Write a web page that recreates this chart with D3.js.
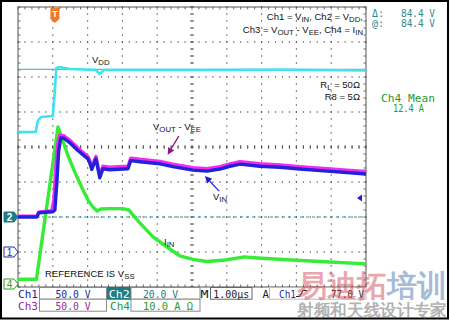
<!DOCTYPE html>
<html><head><meta charset="utf-8">
<script src="https://cdn.jsdelivr.net/npm/d3@7"></script>
<style>body{margin:0;background:#fff}svg{display:block}text{font-family:"Liberation Sans",Arial,sans-serif}</style>
</head><body><svg id="c" width="450" height="321"></svg>
<script>
// ---- data: time in µs (trigger = 0), values in volts / amps ----
const timeDomain = [-1.06, 8.94];
const ch2VDD = [[-1.06,48.6],[-0.55,48.6],[-0.49,55.0],[-0.40,57.1],[-0.06,57.7],[-0.01,69.7],[0.04,85.1],[0.14,85.7],[0.43,84.6],[1.18,84.0],[1.29,81.7],[1.41,84.0],[4.17,84.0],[6.5,84.1],[8.94,83.7]];
const ch1VIN = [[-1.06,50],[-0.52,50],[-0.46,56],[-0.06,57.5],[0,60],[0.06,102],[0.11,145],[0.17,163],[0.26,162.5],[0.43,156],[0.66,145],[0.95,133],[1.01,126],[1.06,118],[1.18,133],[1.29,106],[1.38,119],[1.58,117.5],[2.10,119],[2.18,130.5],[2.44,129],[3.02,126],[3.39,122],[3.97,117],[4.37,115.5],[4.74,118.5],[5.03,122.5],[5.32,125.5],[5.89,122.5],[6.47,121],[7.04,118.5],[7.82,115.5],[8.39,113.5],[8.94,111.5]];
const ch3VOUT = [[-1.06,51],[-0.52,51],[-0.46,57],[-0.09,59],[-0.03,74],[0.03,124],[0.09,157],[0.14,167],[0.26,166],[0.43,159.5],[0.66,148.5],[0.95,136.5],[1.01,129.5],[1.06,121.5],[1.18,136.5],[1.29,109.5],[1.38,122.5],[1.58,121],[2.10,122.5],[2.18,134],[2.44,132.5],[3.02,129.5],[3.39,125.5],[3.97,120.5],[4.37,119],[4.74,122],[5.03,126],[5.32,129],[5.89,126],[6.47,124.5],[7.04,122],[7.82,119],[8.39,117],[8.94,115]];
const ch4IIN = [[-1.06,2.2],[-0.53,2.2],[0.09,45.7],[0.23,41.7],[0.37,37.7],[0.57,32.9],[0.78,28.3],[0.95,24.9],[1.09,22.9],[1.21,21.7],[1.32,22.3],[1.58,22.4],[1.95,22.4],[2.13,22.0],[2.24,20.6],[2.44,18.3],[2.82,14.3],[3.21,11.5],[3.59,8.9],[3.97,7.9],[4.36,7.3],[4.89,7.7],[5.46,8.6],[5.83,8.3],[6.80,7.7],[7.76,7.2],[8.94,6.6]];
const cursorVolts = 84.4;     // ch2 cursor
const triggerLevel = 77.0;    // ch1 trigger
const voltsPerDiv = {ch1:50, ch2:20, ch3:50, ch4:10};
const groundDiv = {ch1:-3, ch2:-2, ch3:-3, ch4:-4};
const statusRow1 = ["Ch1","50.0 V","Ch2","20.0 V","M","1.00µs","A","Ch1","77.0 V"];
const statusRow2 = ["Ch3","50.0 V","Ch4","10.0 A Ω"];

// ---- layout ----
const svg = d3.select('#c');
const X0=18, X1=366, Y0=7, Y1=287;
const x = d3.scaleLinear().domain(timeDomain).range([X0,X1]);
const gx = d3.scaleLinear().domain([0,10]).range([X0,X1]);
const gy = d3.scaleLinear().domain([-4,4]).range([Y1,Y0]);
const chY = ch => d3.scaleLinear().domain([(-4-groundDiv[ch])*voltsPerDiv[ch],(4-groundDiv[ch])*voltsPerDiv[ch]]).range([Y1,Y0]);
const y1=chY('ch1'), y2=chY('ch2'), y3=chY('ch3'), y4=chY('ch4');

svg.append('rect').attr('x',0).attr('y',0).attr('width',450).attr('height',321).attr('fill','#fff');
svg.append('rect').attr('x',1).attr('y',1).attr('width',447).attr('height',317.5).attr('fill','none').attr('stroke','#000').attr('stroke-width',2);

// grid
const grid = svg.append('g');
const minorX = d3.range(0,10.001,0.2), minorY = d3.range(-4,4.001,0.2);
d3.range(1,10).forEach(k=>{
  grid.selectAll(null).data(minorY).enter().append('rect')
    .attr('x',gx(k)-0.6).attr('y',d=>gy(d)-0.6).attr('width',1.2).attr('height',1.2).attr('fill','#444');
});
d3.range(-3,4).forEach(j=>{
  grid.selectAll(null).data(minorX).enter().append('rect')
    .attr('x',d=>gx(d)-0.6).attr('y',gy(j)-0.6).attr('width',1.2).attr('height',1.2).attr('fill','#444');
});
// center axes ticks
grid.selectAll(null).data(minorX).enter().append('line')
  .attr('x1',d=>gx(d)).attr('x2',d=>gx(d)).attr('y1',gy(0)-2).attr('y2',gy(0)+2).attr('stroke','#444').attr('stroke-width',0.8);
grid.selectAll(null).data(minorY).enter().append('line')
  .attr('y1',d=>gy(d)).attr('y2',d=>gy(d)).attr('x1',gx(5)-2).attr('x2',gx(5)+2).attr('stroke','#444').attr('stroke-width',0.8);
// edge ticks
grid.selectAll(null).data(minorX).enter().append('line')
  .attr('x1',d=>gx(d)).attr('x2',d=>gx(d)).attr('y1',Y0).attr('y2',Y0+2.5).attr('stroke','#444').attr('stroke-width',0.8);
grid.selectAll(null).data(minorX).enter().append('line')
  .attr('x1',d=>gx(d)).attr('x2',d=>gx(d)).attr('y1',Y1).attr('y2',Y1-2.5).attr('stroke','#444').attr('stroke-width',0.8);
grid.selectAll(null).data(minorY).enter().append('line')
  .attr('y1',d=>gy(d)).attr('y2',d=>gy(d)).attr('x1',X0).attr('x2',X0+2.5).attr('stroke','#444').attr('stroke-width',0.8);
grid.selectAll(null).data(minorY).enter().append('line')
  .attr('y1',d=>gy(d)).attr('y2',d=>gy(d)).attr('x1',X1).attr('x2',X1-2.5).attr('stroke','#444').attr('stroke-width',0.8);
svg.append('rect').attr('x',X0).attr('y',Y0).attr('width',X1-X0).attr('height',Y1-Y0).attr('fill','none').attr('stroke','#555').attr('stroke-width',1);

// ch2 ground dashed reference
svg.append('line').attr('x1',X0).attr('x2',X1).attr('y1',y2(0)).attr('y2',y2(0))
  .attr('stroke','#2a9a9e').attr('stroke-width',1.2).attr('stroke-dasharray','3,3');
// cursor line
svg.append('line').attr('x1',X0).attr('x2',X1).attr('y1',y2(cursorVolts)).attr('y2',y2(cursorVolts))
  .attr('stroke','#34a8b4').attr('stroke-width',1);

// traces
const line = ys => d3.line().x(d=>x(d[0])).y(d=>ys(d[1]));
svg.append('path').datum(ch2VDD).attr('d',line(y2)).attr('fill','none').attr('stroke','#3ce4f0').attr('stroke-width',2.6).attr('stroke-linejoin','round');
svg.append('path').datum(ch4IIN).attr('d',line(y4)).attr('fill','none').attr('stroke','#36ec36').attr('stroke-width',3.4).attr('stroke-linejoin','round');
svg.append('path').datum(ch3VOUT).attr('d',line(y3)).attr('fill','none').attr('stroke','#f22cf0').attr('stroke-width',3.4).attr('stroke-linejoin','round');
svg.append('path').datum(ch1VIN).attr('d',line(y1)).attr('fill','none').attr('stroke','#2222dc').attr('stroke-width',3.4).attr('stroke-linejoin','round');

// rich text helper
function rich(x0,y0,parts,size,anchor,fill){
  const t = svg.append('text').attr('x',x0).attr('y',y0).attr('font-size',size).attr('text-anchor',anchor).attr('fill',fill);
  let cur=0;
  parts.forEach(p=>{
    const sub=Array.isArray(p), s=sub?p[0]:p, tgt=sub?2:0;
    t.append('tspan').attr('dy',tgt-cur).attr('font-size',sub?size*0.82:size).text(s);
    cur=tgt;
  });
  return t;
}
rich(92,63,['V',['DD']],9.5,'start','#111');
rich(153,130,['V',['OUT'],' - V',['EE']],9.5,'start','#111');
rich(213,200,['V',['IN']],9.5,'start','#111');
rich(164,245,['I',['IN']],9.5,'start','#111');
rich(45,277,['REFERENCE IS V',['SS']],9.5,'start','#111');
rich(363,20,['Ch1 = V',['IN'],', Ch2 = V',['DD'],','],9.5,'end','#111');
rich(363,33,['Ch3 = V',['OUT'],' - V',['EE'],', Ch4 = I',['IN']],9.5,'end','#111');
rich(360,88,['R',['L'],' = 50Ω'],9.5,'end','#111');
rich(360,100,['R8 = 5Ω'],9.5,'end','#111');

// arrows
function arrow(t0,v0,t1,v1,ys,color){
  const ax=x(t0), ay=ys(v0), bx=x(t1), by=ys(v1);
  const ang=Math.atan2(by-ay,bx-ax), L=7, W=3.5;
  const px=bx-L*Math.cos(ang), py=by-L*Math.sin(ang);
  svg.append('line').attr('x1',ax).attr('y1',ay).attr('x2',px).attr('y2',py).attr('stroke',color).attr('stroke-width',1.3);
  svg.append('path').attr('d',`M${bx},${by}L${px+W*Math.sin(ang)},${py-W*Math.cos(ang)}L${px-W*Math.sin(ang)},${py+W*Math.cos(ang)}Z`).attr('fill',color);
}
arrow(4.72,87,4.31,108.5,y1,'#2020d0');
arrow(3.56,165.5,3.24,139,y3,'#8a1a86');

// trigger T marker
const tx=x(0);
svg.append('path').attr('d',`M${tx-4.5},${Y0+1}h9v11l-4.5,4l-4.5,-4z`).attr('fill','#f07a22');
svg.append('text').attr('x',tx).attr('y',Y0+10).attr('text-anchor','middle').attr('font-size',9).attr('font-weight','bold').attr('fill','#fff').text('T');
// trigger level marker
const tly=y1(triggerLevel);
svg.append('path').attr('d',`M${X1-9},${tly}l5,-3.5v7z`).attr('fill','#2020d0');

// channel ground markers
function gmark(yc,label,color,filled){
  svg.append('path').attr('d',`M4,${yc-5}h10l4,5l-4,5h-10z`).attr('fill',filled?color:'#fff').attr('stroke',color).attr('stroke-width',1);
  svg.append('text').attr('x',9.5).attr('y',yc+3.5).attr('text-anchor','middle').attr('font-size',10).attr('font-weight',filled?'bold':'normal').attr('fill',filled?'#fff':color).text(label);
}
gmark(y2(0),'2','#1e7c80',true);
gmark(y1(0),'1','#2828b0',false);
gmark(Math.min(y4(0),Y1-3),'4','#22a022',false);

// right panel readouts
function mono(x0,y0,s,size,fill,len,anchor){
  const t=svg.append('text').attr('x',x0).attr('y',y0).attr('font-size',size).attr('fill',fill)
    .style('font-family','"DejaVu Sans Mono",monospace').attr('text-anchor',anchor||'start').text(s);
  if(len) t.attr('textLength',len).attr('lengthAdjust','spacingAndGlyphs');
  return t;
}
mono(372,17,'Δ:',10,'#2a8c8c',12);
mono(401,17,'84.4 V',10,'#2a8c8c',34);
mono(372,27,'@:',10,'#2a8c8c',12);
mono(401,27,'84.4 V',10,'#2a8c8c',34);
mono(381,101.5,'Ch4 Mean',10,'#1f9a2f',54);
mono(393,112,'12.4 A',10,'#1f9a2f',31);

// status bar
const sb = svg.append('g');
const r1=287.5, r2=299.2, rh1=11.7, rh2=12;
function box(x0,yy,w,h,fill,stroke){ sb.append('rect').attr('x',x0).attr('y',yy).attr('width',w).attr('height',h).attr('fill',fill).attr('stroke',stroke).attr('stroke-width',1); }
box(39.5,r1,67,rh1,'#fff','#8a8a8a');
box(107.5,r1,23.5,rh1,'#1e7c80','#1e7c80');
box(131,r1,69,rh1,'#fff','#8a8a8a');
box(210.5,r1,41.5,rh1,'#fff','#666');
box(269.5,r1,96.5,rh1,'#fff','#bbb');
box(39.5,r2,67,rh2,'#fff','#8a8a8a');
box(131,r2,69,rh2,'#fff','#8a8a8a');
const b1=297.5, b2=309.5;
mono(18,b1,statusRow1[0],10,'#1a2a9a',20);
mono(73,b1,statusRow1[1],10,'#1a2a9a',35,'middle');
mono(119.3,b1,statusRow1[2],10,'#fff',21,'middle');
mono(160.5,b1,statusRow1[3],10,'#1e7c80',35,'middle');
mono(200.5,b1,statusRow1[4],10,'#222',8);
mono(231.2,b1,statusRow1[5],10,'#222',36,'middle');
mono(262.5,b1,statusRow1[6],10,'#222',6.5);
mono(279,b1,statusRow1[7],10,'#2a2ab0',17);
sb.append('path').attr('d','M296,296.5h3.5l3.5,-6h4').attr('fill','none').attr('stroke','#222').attr('stroke-width',1.1);
mono(364,b1,statusRow1[8],10,'#222',33,'end');
mono(18,b2,statusRow2[0],10,'#9a2a9a',20);
mono(73,b2,statusRow2[1],10,'#9a2a9a',35,'middle');
mono(110,b2,statusRow2[2],10,'#2a9a2a',20);
mono(168,b2,statusRow2[3],10,'#2a9a2a',50,'middle');

// watermark
const wm = svg.append('g').style('font-family','"Noto Sans CJK SC",sans-serif').attr('font-weight',900);
wm.append('text').attr('x',297).attr('y',295.5).attr('font-size',30).attr('textLength',90).attr('lengthAdjust','spacingAndGlyphs').attr('fill','rgba(210,80,90,0.5)').text('易迪拓');
wm.append('text').attr('x',387).attr('y',295.5).attr('font-size',30).attr('textLength',60).attr('lengthAdjust','spacingAndGlyphs').attr('fill','rgba(80,120,175,0.5)').text('培训');
wm.append('text').attr('x',297).attr('y',316).attr('font-size',16.5).attr('font-weight',700).attr('textLength',150).attr('lengthAdjust','spacingAndGlyphs').attr('fill','rgba(110,110,110,0.55)').text('射频和天线设计专家');
</script></body></html>
